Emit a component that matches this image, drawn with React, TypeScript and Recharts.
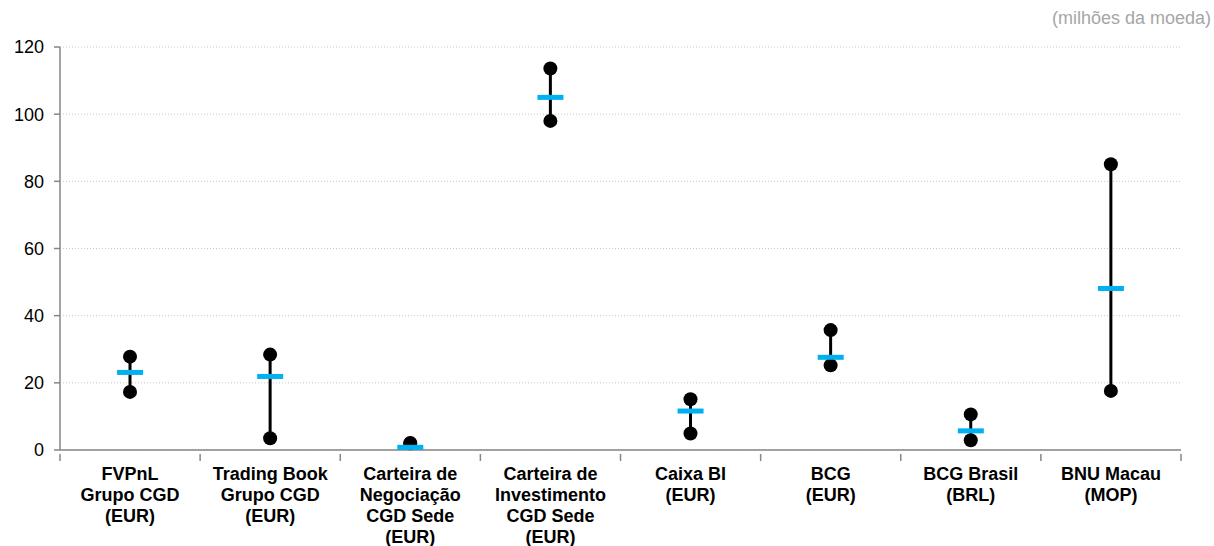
import {
  ComposedChart, Bar, Scatter, XAxis, YAxis, CartesianGrid
} from 'recharts'

const categories = ['fvpnl', 'trading', 'negociacao', 'investimento', 'caixabi', 'bcg', 'bcgbrasil', 'bnu']
const labels = [
  ['FVPnL', 'Grupo CGD', '(EUR)'],
  ['Trading Book', 'Grupo CGD', '(EUR)'],
  ['Carteira de', 'Negociação', 'CGD Sede', '(EUR)'],
  ['Carteira de', 'Investimento', 'CGD Sede', '(EUR)'],
  ['Caixa BI', '(EUR)'],
  ['BCG', '(EUR)'],
  ['BCG Brasil', '(BRL)'],
  ['BNU Macau', '(MOP)'],
]
const minValues = [17.3, 3.5, 1.9, 98.0, 4.9, 25.2, 2.9, 17.6]
const maxValues = [27.8, 28.4, 2.1, 113.6, 15.1, 35.7, 10.6, 85.1]
const meanValues = [23.1, 21.9, 0.8, 105.0, 11.6, 27.6, 5.7, 48.1]
const yTicks = [0, 20, 40, 60, 80, 100, 120]

const W = 1214
const H = 546
const M = { top: 47, right: 33, left: 0, bottom: 0 }
const Y_W = 60
const STEP = (W - M.left - M.right - Y_W) / categories.length

const data = categories.map((c, i) => ({
  name: c,
  range: [minValues[i], maxValues[i]],
  mean: meanValues[i],
}))

const RangeShape = (p: any) => {
  const cx = p.x + p.width / 2
  const y1 = p.y
  const y2 = p.y + p.height
  return (
    <g>
      <line x1={cx} x2={cx} y1={y1} y2={y2} stroke="#000" strokeWidth={3} />
      <circle cx={cx} cy={y1} r={7} fill="#000" />
      <circle cx={cx} cy={y2} r={7} fill="#000" />
    </g>
  )
}

const MeanShape = (p: any) => (
  <rect x={p.cx - 13} y={p.cy - 2.5} width={26} height={5} fill="#00B0F0" />
)

const CatTick = (p: any) => {
  const { x, y, index } = p
  const lines = labels[index] || []
  return (
    <g>
      <line x1={x - STEP / 2} x2={x - STEP / 2} y1={y - 2} y2={y + 5} stroke="#868686" strokeWidth={1.5} />
      {index === categories.length - 1 && (
        <line x1={x + STEP / 2} x2={x + STEP / 2} y1={y - 2} y2={y + 5} stroke="#868686" strokeWidth={1.5} />
      )}
      <text x={x} y={y} textAnchor="middle" fontFamily="Arial, 'Liberation Sans'" fontWeight="bold" fontSize={18} fill="#000">
        {lines.map((l, i) => (
          <tspan key={i} x={x} dy={i === 0 ? 23.5 : 21.3}>{l}</tspan>
        ))}
      </text>
    </g>
  )
}

export default function App() {
  return (
    <div style={{ position: 'absolute', left: 0, top: 0, width: W, height: H, background: '#fff' }}>
      <div style={{
        position: 'absolute', right: 3, top: 8, fontFamily: "Arial, 'Liberation Sans'",
        fontSize: 18, color: '#A6A6A6'
      }}>(milhões da moeda)</div>
      <ComposedChart width={W} height={H} data={data} margin={M}>
        <CartesianGrid vertical={false} stroke="#C8C8C8" strokeDasharray="1 2" />
        <XAxis
          dataKey="name"
          height={H - 450}
          tickLine={false}
          axisLine={{ stroke: '#868686', strokeWidth: 1.5 }}
          tick={<CatTick />}
          tickMargin={0}
          interval={0}
        />
        <YAxis
          domain={[0, 120]}
          ticks={yTicks}
          width={Y_W}
          tickSize={6}
          tickMargin={10}
          axisLine={{ stroke: '#868686', strokeWidth: 1.5 }}
          tickLine={{ stroke: '#868686', strokeWidth: 1.5 }}
          tick={{ fill: '#000', fontSize: 18, fontFamily: "Arial, 'Liberation Sans'" }}
        />
        <Bar dataKey="range" barSize={14} shape={<RangeShape />} isAnimationActive={false} />
        <Scatter dataKey="mean" shape={<MeanShape />} isAnimationActive={false} />
      </ComposedChart>
    </div>
  )
}
